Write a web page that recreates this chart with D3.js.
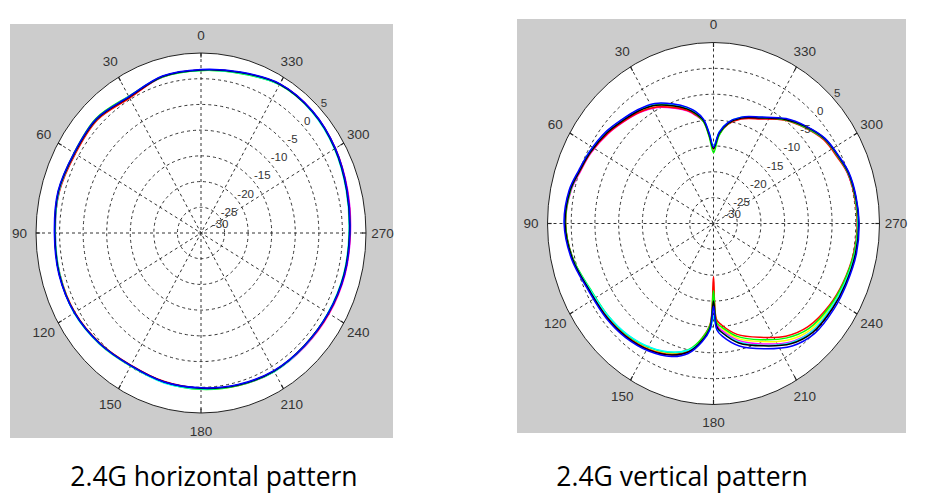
<!DOCTYPE html>
<html>
<head>
<meta charset="utf-8">
<script src="https://cdn.jsdelivr.net/npm/d3@7"></script>
<style>
	body { margin:0; background:#fff; }
	.tick-label { font-family: "Liberation Sans", Arial, sans-serif; font-size:13.5px; fill:#333; }
	.ring-label { font-family: "Liberation Sans", Arial, sans-serif; font-size:11.5px; fill:#333; }
	.title { font-family: "Open Sans", "Noto Sans", sans-serif; font-size:26.5px; fill:#000; }
</style>
</head>
<body>
<svg id="chart" width="928" height="500"></svg>
<script>

// ---- data ----
// gain in dB, angle in degrees (counter-clockwise, 0 at top)
const angleTicks = [0,30,60,90,120,150,180,210,240,270,300,330];
const ringTicks = [-30,-25,-20,-15,-10,-5,0,5];
const seriesColors = ['#ffff00','#ff00ff','#ff0000','#00ff00','#00ffff','#000000','#0000ff'];
const seriesNames = ['yellow','magenta','red','green','cyan','black','blue'];

// 2.4G horizontal
const hAngles = [0,15,30,45,60,75,90,105,120,135,150,165,180,195,210,225,240,255,270,285,300,315,330,345];
const hYellow  = [1.6,1.5,0.5,1.3,1.0,1.3,1.0,1.0,1.0,0.5,-0.1,0.1,0.3,0.7,1.0,1.0,1.3,1.5,1.6,2.1,2.8,3.4,3.3,2.2];
const hMagenta = [1.7,1.4,0.4,1.2,0.9,1.2,0.9,1.1,1.0,0.4,-0.3,0.0,0.2,0.7,1.1,1.2,1.4,1.6,1.7,2.2,2.9,3.5,3.4,2.2];
const hRed     = [1.7,1.5,0.3,1.1,0.8,1.1,1.0,1.0,0.9,0.3,-0.3,-0.1,0.2,0.6,1.0,1.1,1.3,1.5,1.6,2.1,2.9,3.4,3.4,2.3];
const hGreen   = [1.6,1.4,0.7,1.5,1.1,1.3,1.0,1.1,1.0,0.4,-0.2,0.1,0.4,0.7,1.1,1.0,1.2,1.4,1.5,2.0,2.8,3.4,3.3,2.1];
const hCyan    = [1.6,1.5,0.6,1.3,1.0,1.2,0.9,1.0,1.1,0.5,-0.1,0.2,0.3,0.6,1.1,1.1,1.1,1.3,1.4,1.9,2.7,3.3,3.3,2.2];
const hBlack   = [1.7,1.5,0.5,1.3,1.0,1.3,1.0,1.1,1.0,0.4,-0.2,0.0,0.2,0.6,1.0,1.0,1.2,1.4,1.5,2.0,2.8,3.4,3.4,2.3];
const hBlue    = [1.8,1.6,0.6,1.4,1.1,1.4,1.1,1.2,1.0,0.4,-0.2,0.0,0.1,0.5,0.9,1.0,1.2,1.5,1.6,2.1,2.9,3.5,3.5,2.4];

// 2.4G vertical
const vAngles = [0,3,6,10,14,20,28,36,44,52,62,70,78,90,103,116,129,140,151,161,168,174,178,180,182,185,193,204,215,225,237,247,259,270,280,289,296,305,314,323,334,344,351,356];
const vYellow  = [-15.6,-12.9,-10.1,-8.6,-7.5,-6.1,-4.5,-3.4,-2.6,-1.6,-0.7,-0.1,0.8,1.2,0.5,-0.9,-1.2,-1.6,-2.2,-3.3,-4.8,-7.6,-10.3,-18.0,-11.0,-9.7,-7.2,-5.0,-2.5,-1.0,-0.5,-0.1,0.3,0.4,0.3,0.0,-0.7,-1.5,-3.1,-4.8,-7.3,-8.8,-10.4,-12.5];
const vMagenta = [-15.4,-12.9,-10.2,-8.8,-7.6,-6.3,-4.6,-3.5,-2.7,-1.8,-0.8,-0.2,0.7,1.2,0.5,-0.8,-1.1,-1.4,-2.0,-3.1,-4.6,-7.4,-10.1,-16.0,-10.4,-9.2,-6.8,-4.5,-2.0,-0.6,-0.1,0.1,0.4,0.5,0.3,-0.1,-0.8,-1.6,-3.2,-4.9,-7.4,-8.9,-10.5,-12.6];
const vRed     = [-15.6,-13.0,-10.2,-8.7,-7.5,-6.2,-4.5,-3.4,-2.6,-1.7,-0.7,-0.1,0.9,1.2,0.4,-0.9,-1.2,-1.5,-2.1,-3.2,-4.8,-7.8,-10.6,-19.7,-11.4,-10.3,-8.0,-5.9,-3.4,-1.8,-0.9,-0.4,0.1,0.3,0.2,-0.1,-0.9,-1.7,-3.3,-5.0,-7.5,-9.0,-10.6,-12.7];
const vGreen   = [-16.3,-13.3,-10.3,-8.5,-7.1,-5.7,-4.0,-3.0,-2.3,-1.4,-0.6,0.0,0.8,1.2,0.4,-1.1,-1.5,-1.8,-2.5,-3.6,-5.1,-7.8,-10.4,-17.0,-10.8,-9.9,-7.6,-5.4,-3.0,-1.4,-0.7,-0.3,0.2,0.4,0.3,0.0,-0.7,-1.5,-3.2,-4.9,-7.2,-8.7,-10.5,-12.9];
const vCyan    = [-15.0,-12.4,-9.8,-8.1,-6.9,-5.5,-3.8,-2.9,-2.2,-1.3,-0.4,0.1,1.0,1.4,0.5,-1.0,-1.5,-1.9,-2.6,-3.7,-5.0,-7.2,-9.4,-12.0,-9.6,-8.8,-6.5,-4.2,-1.8,-0.6,-0.3,0.0,0.4,0.5,0.4,0.1,-0.6,-1.4,-3.0,-4.7,-7.2,-8.6,-10.2,-12.2];
const vBlack   = [-15.5,-12.8,-10.0,-8.4,-7.2,-5.8,-4.1,-3.1,-2.4,-1.5,-0.6,0.0,0.9,1.3,0.5,-0.8,-1.1,-1.4,-2.0,-3.1,-4.6,-7.3,-9.9,-15.0,-10.0,-8.8,-6.3,-4.1,-1.6,-0.3,0.0,0.2,0.5,0.6,0.4,0.1,-0.6,-1.4,-3.0,-4.8,-7.3,-8.8,-10.4,-12.5];
const vBlue    = [-15.2,-12.5,-9.7,-8.0,-6.8,-5.4,-3.7,-2.8,-2.1,-1.2,-0.4,0.2,1.1,1.5,0.7,-0.6,-0.9,-1.2,-1.8,-2.8,-4.3,-7.0,-9.6,-14.0,-9.4,-8.1,-5.7,-3.5,-1.1,0.1,0.3,0.4,0.7,0.7,0.5,0.2,-0.5,-1.3,-2.9,-4.6,-7.1,-8.6,-10.2,-12.3];

const hSeries = [hYellow,hMagenta,hRed,hGreen,hCyan,hBlack,hBlue];
const vSeries = [vYellow,vMagenta,vRed,vGreen,vCyan,vBlack,vBlue];


function PolarPattern(_) { // factory function

	let _angles = [];
	let _box = {x:0,y:0,w:400,h:400};
	let _center = [200,200];
	let _radius = [160,180]; // rx, ry (the matlab plot is a bit stretched)
	let _title = '';
	let _titleX = 200;
	let _titleY = 486;

	function exports(series) {

		const root = d3.select(this);
		const cx = _center[0], cy = _center[1];
		const rx = _radius[0], ry = _radius[1];

		//Scales
		const scaleR = d3.scaleLinear().domain([ringTicks[0], ringTicks[ringTicks.length-1]]).range([0,1]);
		const scaleX = d3.scaleLinear().domain([-1,1]).range([cx-rx, cx+rx]);
		const scaleY = d3.scaleLinear().domain([-1,1]).range([cy+ry, cy-ry]);
		const rad = a => a*Math.PI/180;
		// angle counter-clockwise from the top
		const px = (a,r) => scaleX(-Math.sin(rad(a))*r);
		const py = (a,r) => scaleY(Math.cos(rad(a))*r);

		//Background panel + white disc
		root.append('rect')
			.attr('x',_box.x).attr('y',_box.y)
			.attr('width',_box.w).attr('height',_box.h)
			.style('fill','#cccccc');

		root.append('ellipse')
			.attr('cx',cx).attr('cy',cy)
			.attr('rx',rx).attr('ry',ry)
			.style('fill','#fff');

		//Grid rings (dashed), last one is the solid edge
		const inner = ringTicks.slice(1, ringTicks.length-1);
		root.selectAll('.ring')
			.data(inner)
			.enter()
			.append('ellipse')
			.attr('class','ring')
			.attr('cx',cx).attr('cy',cy)
			.attr('rx',d => scaleX(scaleR(d)) - cx)
			.attr('ry',d => cy - scaleY(scaleR(d)))
			.style('fill','none')
			.style('stroke','#333')
			.style('stroke-width',1)
			.style('stroke-dasharray','3,3');

		//Spokes
		root.selectAll('.spoke')
			.data(angleTicks.filter(a => a < 180))
			.enter()
			.append('line')
			.attr('class','spoke')
			.attr('x1',d => px(d,1)).attr('y1',d => py(d,1))
			.attr('x2',d => px(d+180,1)).attr('y2',d => py(d+180,1))
			.style('stroke','#333')
			.style('stroke-width',1)
			.style('stroke-dasharray','3,3');

		//Patterns
		const line = d3.line()
			.x(d => px(d[0], scaleR(d[1])))
			.y(d => py(d[0], scaleR(d[1])))
			.curve(d3.curveCatmullRomClosed.alpha(0.5));

		root.selectAll('.pattern')
			.data(series)
			.enter()
			.append('path')
			.attr('class',(d,i) => 'pattern ' + seriesNames[i])
			.attr('d',d => line(d.map((v,j) => [_angles[j], v])))
			.style('fill','none')
			.style('stroke',(d,i) => seriesColors[i])
			.style('stroke-width',1.5);

		//Outer edge
		root.append('ellipse')
			.attr('cx',cx).attr('cy',cy)
			.attr('rx',rx).attr('ry',ry)
			.style('fill','none')
			.style('stroke','#222')
			.style('stroke-width',1);

		//small ticks on the edge
		root.selectAll('.edge-tick')
			.data(angleTicks)
			.enter()
			.append('line')
			.attr('class','edge-tick')
			.attr('x1',d => px(d,1)).attr('y1',d => py(d,1))
			.attr('x2',d => px(d,0.975)).attr('y2',d => py(d,0.975))
			.style('stroke','#222')
			.style('stroke-width',1.2);

		//Angle labels
		root.selectAll('.tick-label')
			.data(angleTicks)
			.enter()
			.append('text')
			.attr('class','tick-label')
			.attr('x',d => px(d,1.1))
			.attr('y',d => py(d,1.1))
			.attr('dy','0.36em')
			.attr('text-anchor','middle')
			.text(d => d);

		//Ring labels, along the 315 direction (the centre one pushed aside a bit)
		const labelR = d => Math.max(scaleR(d), 0.05);
		root.selectAll('.ring-label')
			.data(ringTicks)
			.enter()
			.append('text')
			.attr('class','ring-label')
			.attr('x',d => px(315, labelR(d)) + (d === ringTicks[0] ? 5 : 3))
			.attr('y',d => py(315, labelR(d)) + 1)
			.text(d => d);

		//Title
		root.append('text')
			.attr('class','title')
			.attr('x',_titleX)
			.attr('y',_titleY)
			.attr('text-anchor','middle')
			.text(_title);
	}

	// getter/setter
	exports.angles = function(_) {
		if (typeof _ === "undefined") return _angles
		_angles = _;
		return this
	}

	exports.box = function(_) {
		if (typeof _ === "undefined") return _box
		_box = _;
		return this
	}

	exports.center = function(_) {
		if (typeof _ === "undefined") return _center
		_center = _;
		return this
	}

	exports.radius = function(_) {
		if (typeof _ === "undefined") return _radius
		_radius = _;
		return this
	}

	exports.title = function(_) {
		if (typeof _ === "undefined") return _title
		_title = _;
		return this
	}

	exports.titleX = function(_) {
		if (typeof _ === "undefined") return _titleX
		_titleX = _;
		return this
	}

	return exports;
}

const svg = d3.select('#chart');

const horizontal = PolarPattern()
	.angles(hAngles)
	.box({x:10,y:24,w:383,h:414})
	.center([201,233])
	.radius([165,180])
	.title('2.4G horizontal pattern')
	.titleX(214);

const vertical = PolarPattern()
	.angles(vAngles)
	.box({x:517,y:19,w:389,h:414})
	.center([713.5,223.5])
	.radius([166,181])
	.title('2.4G vertical pattern')
	.titleX(682);

svg.append('g').datum(hSeries).each(horizontal);
svg.append('g').datum(vSeries).each(vertical);

</script>
</body>
</html>
